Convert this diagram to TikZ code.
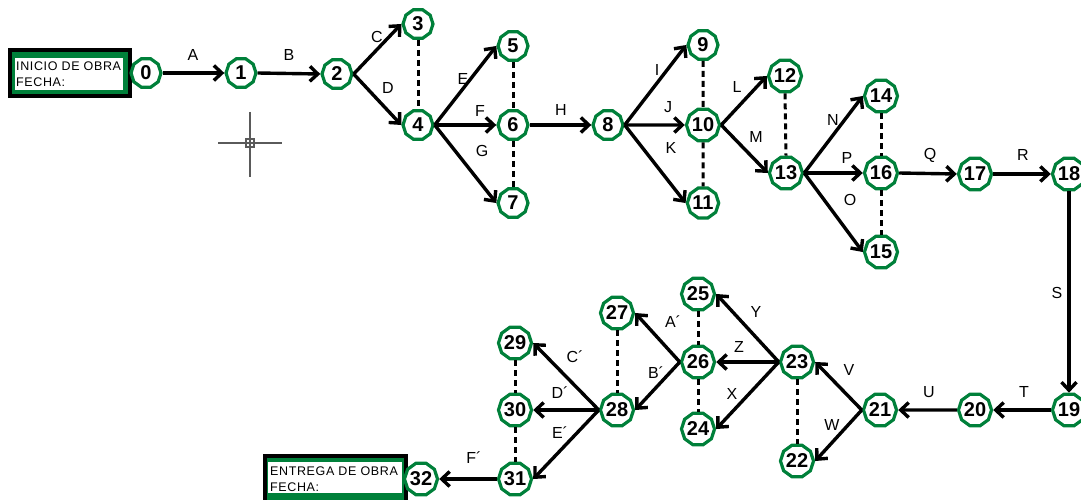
\documentclass[tikz,border=0pt]{standalone}
\usepackage{fontspec}
\setmainfont{Liberation Sans}
\usepackage{tikz}
\usetikzlibrary{shapes.geometric}
\usetikzlibrary{arrows.meta}
\definecolor{evgreen}{RGB}{0,128,58}
\definecolor{cursorgray}{RGB}{90,90,90}
\tikzstyle{event}=[regular polygon, regular polygon sides=10, draw=evgreen, line width=3.2pt, fill=white, minimum size=30pt, inner sep=0pt, font=\fontsize{20}{20}\selectfont\bfseries]
\tikzstyle{act}=[line width=3.4pt, -{Straight Barb[length=8pt,width=15pt,line width=3.4pt]}]
\tikzstyle{dummy}=[line width=3pt, dash pattern=on 6pt off 4pt]
\tikzstyle{actlabel}=[inner sep=0pt, font=\fontsize{16}{16}\selectfont]
\tikzstyle{boxtext}=[inner sep=0pt, anchor=base west, align=left, font=\fontsize{12.5}{16}\selectfont\addfontfeatures{LetterSpace=5}]

\begin{document}
\begin{tikzpicture}[x=1pt, y=-1pt]
          \useasboundingbox (0,0) rectangle (1081,500);
          \draw[line width=4pt, fill=evgreen] (10,50) rectangle (130,96);
          \fill[white] (15,58) rectangle (123,90);
          \node[boxtext] (inicio) at (16,87){INICIO DE OBRA\\FECHA:};
          \draw[line width=4pt, fill=evgreen] (265,456) rectangle (406,510);
          \fill[white] (268,462) rectangle (402,493);
          \node[boxtext] (entrega) at (270,491){ENTREGA DE OBRA\\FECHA:};
          \draw[cursorgray, line width=1.2pt] (218,143) -- (246,143) (254,143) -- (282,143)
            (250,112) -- (250,139) (250,147) -- (250,177)
            (246,139) rectangle (254,147) (250,139) -- (250,147) (246,143) -- (254,143);
          \node[event] (n0) at (146,73){0};
          \node[event] (n1) at (241,73){1};
          \node[event] (n2) at (337,74){2};
          \node[event] (n3) at (418,24){3};
          \node[event] (n4) at (418,125){4};
          \node[event] (n5) at (513,46){5};
          \node[event] (n6) at (513,125){6};
          \node[event] (n7) at (513,203){7};
          \node[event] (n8) at (608,125){8};
          \node[event] (n9) at (703,45){9};
          \node[event] (n10) at (703,125){10};
          \node[event] (n11) at (703,203){11};
          \node[event] (n12) at (785,76){12};
          \node[event] (n13) at (786,173){13};
          \node[event] (n14) at (881,96){14};
          \node[event] (n16) at (881,173){16};
          \node[event] (n15) at (881,252){15};
          \node[event] (n17) at (975,174){17};
          \node[event] (n18) at (1069,174){18};
          \node[event] (n19) at (1069,410){19};
          \node[event] (n20) at (975,410){20};
          \node[event] (n21) at (880,410){21};
          \node[event] (n23) at (797,362){23};
          \node[event] (n22) at (797,461){22};
          \node[event] (n25) at (698,294){25};
          \node[event] (n26) at (698,362){26};
          \node[event] (n24) at (698,429){24};
          \node[event] (n27) at (617,313){27};
          \node[event] (n28) at (617,410){28};
          \node[event] (n29) at (515,343){29};
          \node[event] (n30) at (515,410){30};
          \node[event] (n31) at (515,479){31};
          \node[event] (n32) at (421,479){32};
          \draw[act](n0.east) -- (n1.west);
          \draw[act](n1.east) -- (n2.west);
          \draw[act](n2.east) -- (n3.west);
          \draw[act](n2.east) -- (n4.west);
          \draw[dummy](n3.south) -- (n4.north);
          \draw[act](n4.east) -- (n5.west);
          \draw[act](n4.east) -- (n6.west);
          \draw[act](n4.east) -- (n7.west);
          \draw[dummy](n5.south) -- (n6.north);
          \draw[dummy](n6.south) -- (n7.north);
          \draw[act](n6.east) -- (n8.west);
          \draw[act](n8.east) -- (n9.west);
          \draw[act](n8.east) -- (n10.west);
          \draw[act](n8.east) -- (n11.west);
          \draw[dummy](n9.south) -- (n10.north);
          \draw[dummy](n10.south) -- (n11.north);
          \draw[act](n10.east) -- (n12.west);
          \draw[act](n10.east) -- (n13.west);
          \draw[dummy](n12.south) -- (n13.north);
          \draw[act](n13.east) -- (n14.west);
          \draw[act](n13.east) -- (n16.west);
          \draw[act](n13.east) -- (n15.west);
          \draw[dummy](n14.south) -- (n16.north);
          \draw[dummy](n16.south) -- (n15.north);
          \draw[act](n16.east) -- (n17.west);
          \draw[act](n17.east) -- (n18.west);
          \draw[act](n18.south) -- (n19.north);
          \draw[act](n19.west) -- (n20.east);
          \draw[act](n20.west) -- (n21.east);
          \draw[act](n21.west) -- (n23.east);
          \draw[act](n21.west) -- (n22.east);
          \draw[dummy](n23.south) -- (n22.north);
          \draw[act](n23.west) -- (n25.east);
          \draw[act](n23.west) -- (n26.east);
          \draw[act](n23.west) -- (n24.east);
          \draw[dummy](n25.south) -- (n26.north);
          \draw[dummy](n26.south) -- (n24.north);
          \draw[act](n26.west) -- (n27.east);
          \draw[act](n26.west) -- (n28.east);
          \draw[dummy](n27.south) -- (n28.north);
          \draw[act](n28.west) -- (n29.east);
          \draw[act](n28.west) -- (n30.east);
          \draw[act](n28.west) -- (n31.east);
          \draw[dummy](n29.south) -- (n30.north);
          \draw[dummy](n30.south) -- (n31.north);
          \draw[act](n31.west) -- (n32.east);
          \node[actlabel] (lA) at (193,55){A};
          \node[actlabel] (lB) at (289,55){B};
          \node[actlabel] (lC) at (377,37){C};
          \node[actlabel] (lD) at (388,88){D};
          \node[actlabel] (lE) at (463,79){E};
          \node[actlabel] (lF) at (480,111){F};
          \node[actlabel] (lG) at (482,151){G};
          \node[actlabel] (lH) at (561,110){H};
          \node[actlabel] (lI) at (657,70){I};
          \node[actlabel] (lJ) at (668,107){J};
          \node[actlabel] (lK) at (671,148){K};
          \node[actlabel] (lL) at (737,87){L};
          \node[actlabel] (lM) at (756,137){M};
          \node[actlabel] (lN) at (833,120){N};
          \node[actlabel] (lP) at (847,158){P};
          \node[actlabel] (lO) at (850,200){O};
          \node[actlabel] (lQ) at (930,155){Q};
          \node[actlabel] (lR) at (1023,155){R};
          \node[actlabel] (lS) at (1057,293){S};
          \node[actlabel] (lT) at (1024,392){T};
          \node[actlabel] (lU) at (929,392){U};
          \node[actlabel] (lV) at (849,370){V};
          \node[actlabel] (lW) at (832,425){W};
          \node[actlabel] (lX) at (732,394){X};
          \node[actlabel] (lY) at (756,312){Y};
          \node[actlabel] (lZ) at (739,347){Z};
          \node[actlabel] (lA2) at (673,322){A´};
          \node[actlabel] (lB2) at (656,373){B´};
          \node[actlabel] (lC2) at (575,357){C´};
          \node[actlabel] (lD2) at (560,393){D´};
          \node[actlabel] (lE2) at (560,433){E´};
          \node[actlabel] (lF2) at (474,458){F´};
        \end{tikzpicture}
\end{document}
